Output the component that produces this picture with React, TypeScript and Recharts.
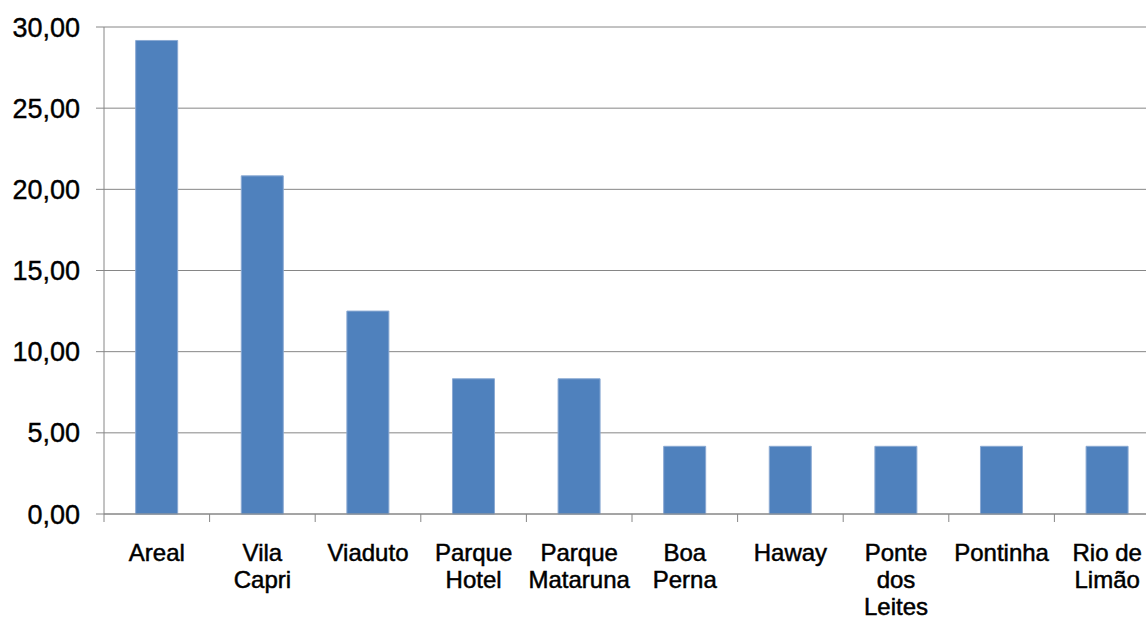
import { BarChart, Bar, XAxis, YAxis, CartesianGrid } from "recharts"

const CATEGORIES = [
  "Areal",
  "Vila Capri",
  "Viaduto",
  "Parque Hotel",
  "Parque Mataruna",
  "Boa Perna",
  "Haway",
  "Ponte dos Leites",
  "Pontinha",
  "Rio de Limão",
]

const LABEL_LINES = [
  ["Areal"],
  ["Vila", "Capri"],
  ["Viaduto"],
  ["Parque", "Hotel"],
  ["Parque", "Mataruna"],
  ["Boa", "Perna"],
  ["Haway"],
  ["Ponte", "dos", "Leites"],
  ["Pontinha"],
  ["Rio de", "Limão"],
]

const VALUES = [29.17, 20.83, 12.5, 8.33, 8.33, 4.17, 4.17, 4.17, 4.17, 4.17]

const Y_TICKS = [0, 5, 10, 15, 20, 25, 30]

const AXIS_GREY = "#868686"
const FONT = "Arial, 'Liberation Sans', sans-serif"

const data = CATEGORIES.map((name, i) => ({ name, value: VALUES[i] }))

function formatValue(v: number) {
  return v.toFixed(2).replace(".", ",")
}

function CategoryTick(props: any) {
  const { x, y, payload } = props
  const idx = CATEGORIES.indexOf(payload.value)
  const half = payload.offset ?? 52.8
  const lines = LABEL_LINES[idx] || [payload.value]
  return (
    <g>
      <line x1={x - half} y1={y} x2={x - half} y2={y + 8} stroke={AXIS_GREY} />
      {idx === CATEGORIES.length - 1 && (
        <line x1={x + half} y1={y} x2={x + half} y2={y + 8} stroke={AXIS_GREY} />
      )}
      <text
        x={x}
        y={y + 47}
        textAnchor="middle"
        fill="#000"
        stroke="#000"
        strokeWidth={0.5}
        fontSize={24}
        fontFamily={FONT}
      >
        {lines.map((line, i) => (
          <tspan key={i} x={x} dy={i === 0 ? 0 : 27}>
            {line}
          </tspan>
        ))}
      </text>
    </g>
  )
}

export default function App() {
  return (
    <div
      style={{
        position: "absolute",
        left: 0,
        top: 0,
        width: 1146,
        height: 618,
        overflow: "hidden",
        background: "#fff",
      }}
    >
      <BarChart
        width={1170}
        height={618}
        data={data}
        margin={{ top: 27, right: 10, left: 0, bottom: 0 }}
        barCategoryGap="30%"
      >
        <CartesianGrid vertical={false} stroke={AXIS_GREY} />
        <XAxis
          dataKey="name"
          height={104}
          interval={0}
          tickLine={false}
          tickSize={0}
          tickMargin={0}
          axisLine={{ stroke: AXIS_GREY }}
          tick={<CategoryTick />}
        />
        <YAxis
          width={104}
          domain={[0, 30]}
          ticks={Y_TICKS}
          tickFormatter={formatValue}
          tickSize={8}
          tickMargin={16}
          axisLine={{ stroke: AXIS_GREY }}
          tickLine={{ stroke: AXIS_GREY }}
          tick={{ fill: "#000", stroke: "#000", strokeWidth: 0.4, fontSize: 27, fontFamily: FONT }}
        />
        <Bar
          dataKey="value"
          fill="#4F81BD"
          stroke="#8AA9D3"
          strokeWidth={1}
          isAnimationActive={false}
        />
      </BarChart>
    </div>
  )
}
